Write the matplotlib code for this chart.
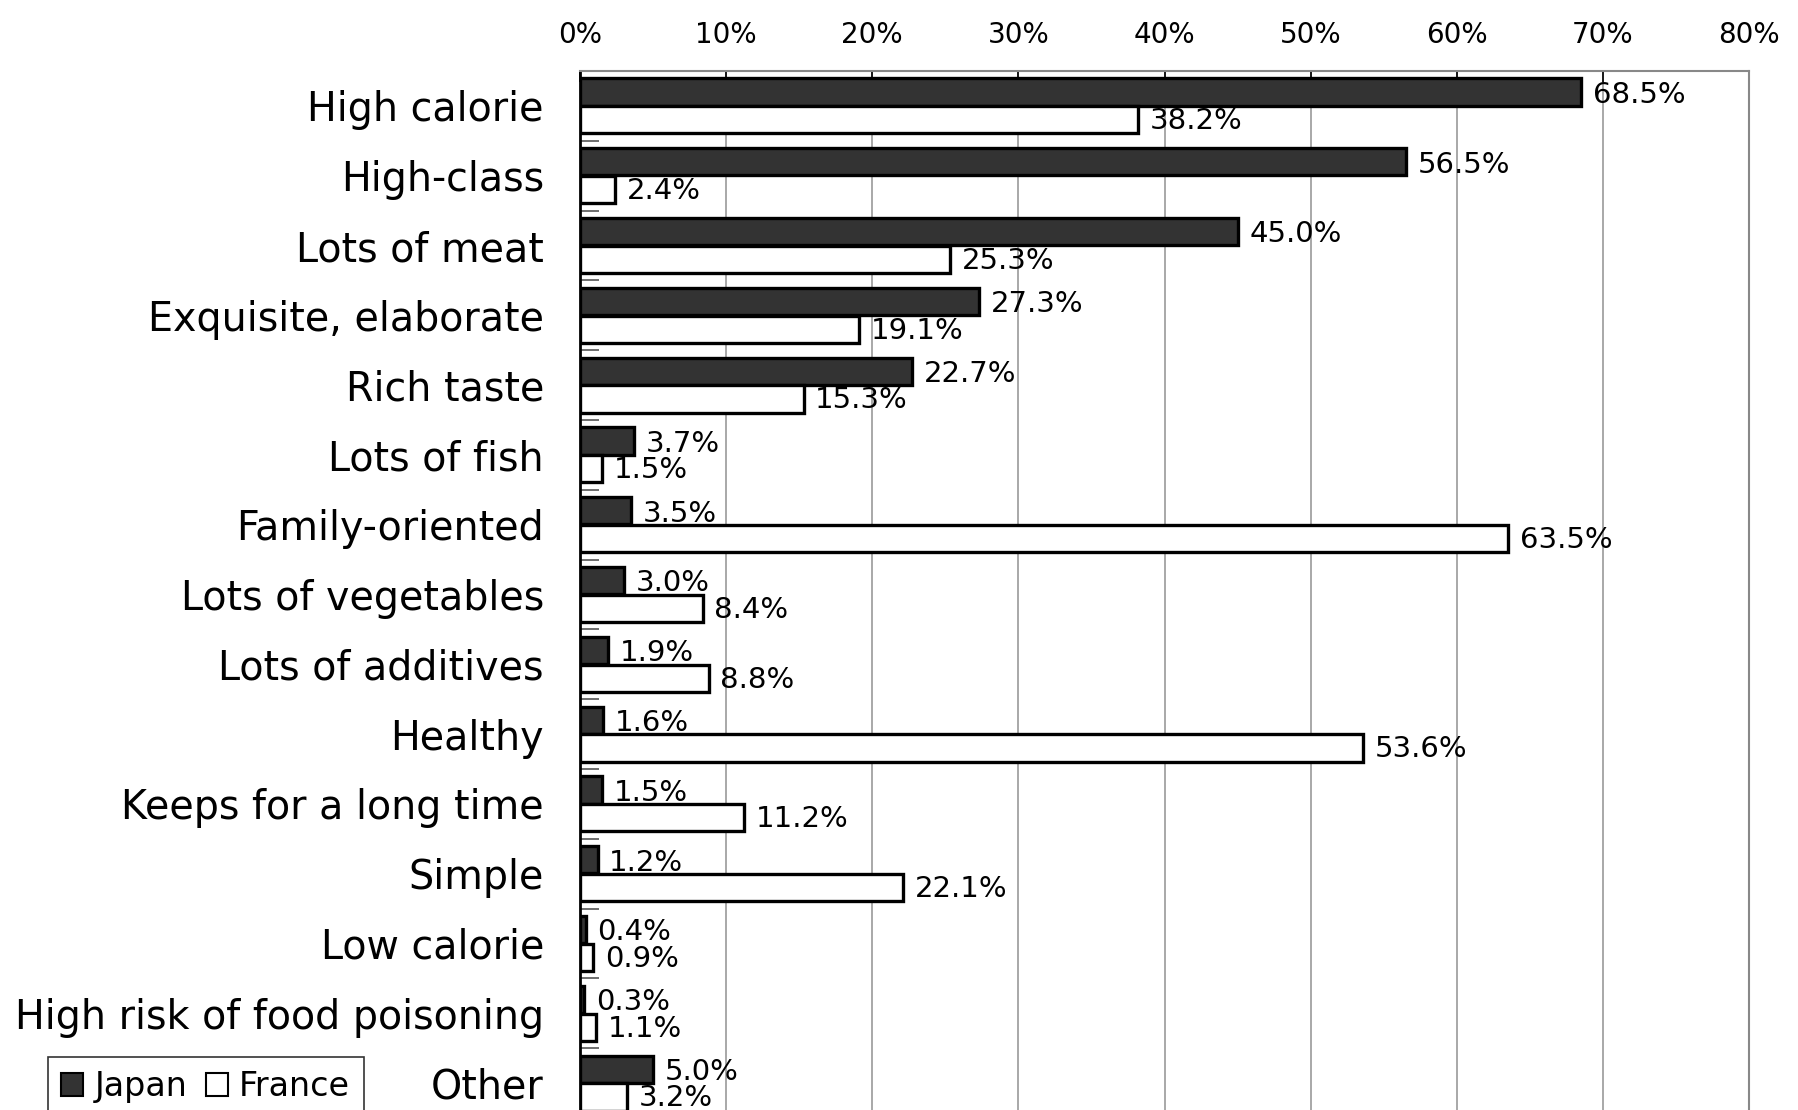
import numpy as np
import matplotlib
matplotlib.use("Agg")
import matplotlib.pyplot as plt
from matplotlib.patches import Patch

plt.rcParams['font.family'] = ['DejaVu Sans']

categories = ["High calorie", "High-class", "Lots of meat", "Exquisite, elaborate",
              "Rich taste", "Lots of fish", "Family-oriented", "Lots of vegetables",
              "Lots of additives", "Healthy", "Keeps for a long time", "Simple",
              "Low calorie", "High risk of food poisoning", "Other"]
japan = [68.5, 56.5, 45.0, 27.3, 22.7, 3.7, 3.5, 3.0, 1.9, 1.6, 1.5, 1.2, 0.4, 0.3, 5.0]
france = [38.2, 2.4, 25.3, 19.1, 15.3, 1.5, 63.5, 8.4, 8.8, 53.6, 11.2, 22.1, 0.9, 1.1, 3.2]
xticks = [0, 10, 20, 30, 40, 50, 60, 70, 80]

fig = plt.figure(figsize=(17.98, 11.10), dpi=100)
ax = fig.add_axes([580/1798, -8/1110, (1749-580)/1798, (1110-71+8)/1110])

y = np.arange(len(categories))
h = 0.39
ax.barh(y - 0.2, japan, height=h, color="#333333", edgecolor="black", linewidth=2.4, zorder=3)
ax.barh(y + 0.2, france, height=h, color="white", edgecolor="black", linewidth=2.4, zorder=3)

for i in range(len(categories)):
    ax.text(japan[i] + 0.8, y[i] - 0.16, f"{japan[i]:.1f}%", va="center", ha="left",
            fontsize=21, zorder=4)
    ax.text(france[i] + 0.8, y[i] + 0.22, f"{france[i]:.1f}%", va="center", ha="left",
            fontsize=21, zorder=4)

ax.set_xlim(0, 80)
ax.set_ylim(len(categories) - 0.5, -0.5)
ax.set_xticks(xticks)
ax.set_xticklabels([f"{v}%" for v in xticks], fontsize=20)
ax.xaxis.tick_top()
ax.tick_params(axis="x", direction="in", length=8, width=1.2, pad=16, top=True, bottom=False)
ax.set_yticks(y)
ax.set_yticklabels(categories, fontsize=28.5)
ax.set_yticks(np.arange(len(categories)) - 0.5, minor=True)
ax.tick_params(axis="y", which="major", length=0, pad=26)
ax.tick_params(axis="y", which="minor", direction="in", length=14, width=1.2, color="#555555")
ax.grid(axis="x", color="#999999", linewidth=1.2, zorder=0)

for s in ["top", "right"]:
    ax.spines[s].set_color("#888888")
    ax.spines[s].set_linewidth(1.5)
ax.spines["left"].set_color("black")
ax.spines["left"].set_linewidth(2)
ax.spines["bottom"].set_visible(False)

handles = [Patch(facecolor="#333333", edgecolor="black", linewidth=1.5, label="Japan"),
           Patch(facecolor="white", edgecolor="black", linewidth=1.5, label="France")]
leg = fig.legend(handles=handles, loc="lower left", bbox_to_anchor=(48/1798, -0.006),
                 ncol=2, fontsize=24, frameon=True, fancybox=False, edgecolor="black",
                 handlelength=0.65, handleheight=0.65, handletextpad=0.35, columnspacing=0.55,
                 borderpad=0.4, borderaxespad=0)
leg.get_frame().set_linewidth(1.2)

fig.savefig("out.png", dpi=100)
